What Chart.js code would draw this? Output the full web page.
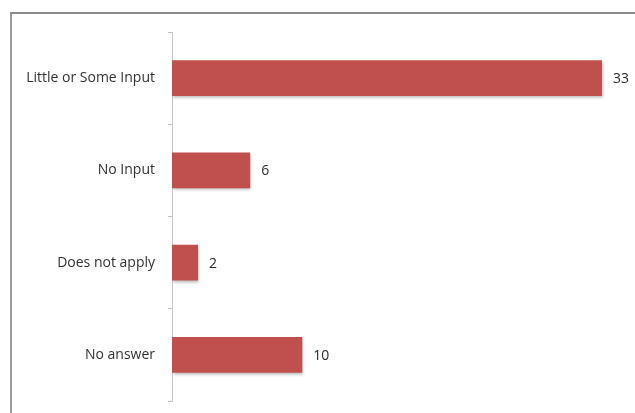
<!DOCTYPE html>
<html lang="en">
<head>
  <meta charset="UTF-8">
  <title>Input responses</title>
  <script src="https://cdn.jsdelivr.net/npm/chart.js"></script>
  <style>
    body { margin: 0; background: #fff; font-family: "Open Sans", Arial, sans-serif; overflow: hidden; }
    .frame {
      position: absolute; left: 10px; top: 12px; width: 640px; height: 420px;
      border-top: 2px solid #8a8a8a; border-left: 2px solid #9a9a9a;
    }
    #chart { position: absolute; left: 0; top: 0; }
  </style>
</head>
<body>
  <div class="frame"></div>
  <canvas id="chart" width="635" height="413"></canvas>
  <script>
    // Data
    const categories = ['Little or Some Input', 'No Input', 'Does not apply', 'No answer'];
    const counts = [33, 6, 2, 10];

    // bar shadow like the office style
    const shadowPlugin = {
      id: 'barShadow',
      beforeDatasetDraw(chart) {
        const ctx = chart.ctx;
        ctx.save();
        ctx.shadowColor = 'rgba(0,0,0,0.28)';
        ctx.shadowOffsetX = 1;
        ctx.shadowOffsetY = 2;
        ctx.shadowBlur = 3;
      },
      afterDatasetDraw(chart) {
        chart.ctx.restore();
      }
    };

    // value labels to the right of bars
    const valueLabels = {
      id: 'valueLabels',
      afterDatasetsDraw(chart) {
        const ctx = chart.ctx;
        const meta = chart.getDatasetMeta(0);
        ctx.save();
        ctx.font = '14px "Open Sans", Arial, sans-serif';
        ctx.fillStyle = '#2a2a2a';
        ctx.textAlign = 'left';
        ctx.textBaseline = 'middle';
        meta.data.forEach((bar, i) => {
          ctx.fillText(String(counts[i]), bar.x + 11, bar.y + 1);
        });
        ctx.restore();
      }
    };

    new Chart(document.getElementById('chart'), {
      type: 'bar',
      data: {
        labels: categories,
        datasets: [{
          data: counts,
          backgroundColor: '#c0504d',
          borderWidth: 0,
          categoryPercentage: 1,
          barPercentage: 0.39
        }]
      },
      options: {
        indexAxis: 'y',
        responsive: false,
        animation: false,
        layout: { padding: { top: 32, bottom: 12, right: 7, left: 0 } },
        plugins: { legend: { display: false }, tooltip: { enabled: false } },
        scales: {
          x: {
            display: false,
            min: 0,
            max: 35
          },
          y: {
            afterFit(scale) {
              scale.width = 172;
              scale.paddingTop = 0;
              scale.paddingBottom = 0;
            },
            grid: { drawOnChartArea: false, tickLength: 4, color: '#bfbfbf', offset: true },
            border: { color: '#c8c8c8', width: 1 },
            ticks: {
              color: '#333',
              padding: 13,
              font: { family: '"Open Sans", Arial, sans-serif', size: 14 }
            }
          }
        }
      },
      plugins: [shadowPlugin, valueLabels]
    });
  </script>
</body>
</html>
